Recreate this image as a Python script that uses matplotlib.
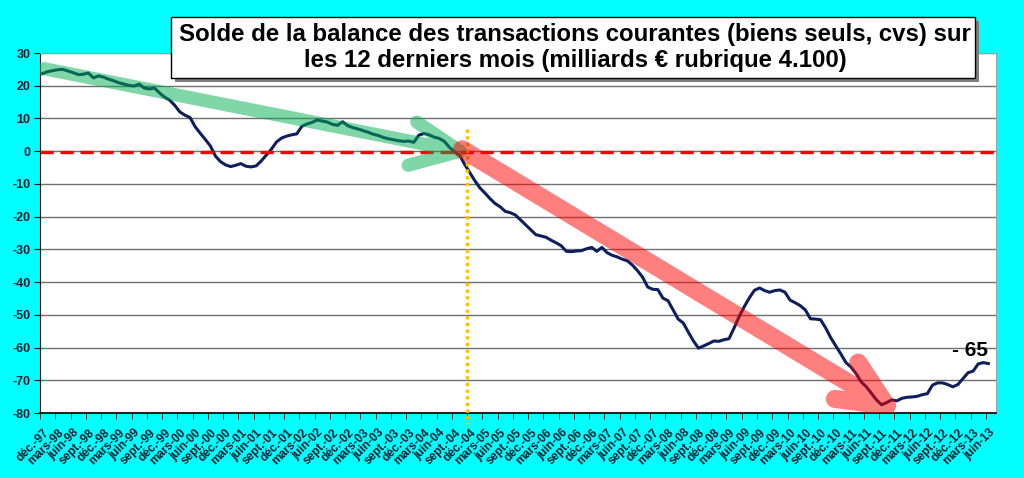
import numpy as np
import matplotlib
matplotlib.use('Agg')
import matplotlib.pyplot as plt
import matplotlib.transforms as mtransforms
from matplotlib.patches import Rectangle, PathPatch
from matplotlib.path import Path

plt.rcParams['font.family'] = ['Liberation Sans', 'DejaVu Sans']

# 12-month rolling goods balance, monthly from déc. 1997 to juin 2013 (bn €)
solde = [23.7, 24.3, 24.6, 24.9, 25.0, 24.5, 24.0, 23.4, 23.5, 23.9,
         22.4, 23.0, 22.6, 22.0, 21.5, 20.9, 20.5, 20.1, 19.9, 20.5,
         19.3, 19.0, 19.3, 17.8, 16.5, 15.6, 14.0, 12.0, 11.0, 10.3,
         7.5, 5.5, 3.6, 1.6, -1.5, -3.2, -4.2, -4.7, -4.3, -3.8,
         -4.6, -4.8, -4.5, -3.0, -1.2, 0.6, 2.8, 4.0, 4.6, 5.0,
         5.3, 7.6, 8.3, 8.8, 9.5, 9.2, 8.9, 8.2, 7.9, 9.0,
         7.8, 7.2, 6.8, 6.3, 5.8, 5.2, 4.8, 4.2, 3.8, 3.5,
         3.2, 3.0, 3.1, 2.7, 4.9, 5.4, 5.0, 4.3, 3.9, 3.0,
         1.2, -0.2, -1.2, -4.0, -6.5, -9.0, -11.2, -12.8, -14.5, -16.0,
         -17.0, -18.4, -18.8, -19.5, -21.0, -22.5, -24.0, -25.5, -25.9, -26.3,
         -27.2, -28.0, -28.9, -30.6, -30.7, -30.5, -30.4, -29.8, -29.4, -30.6,
         -29.4, -31.0, -31.8, -32.3, -33.0, -33.5, -34.8, -36.5, -38.5, -41.5,
         -42.2, -42.3, -44.9, -45.7, -48.5, -51.3, -52.5, -55.3, -58.0, -60.2,
         -59.5, -58.8, -58.0, -58.1, -57.6, -57.3, -54.0, -50.5, -47.5, -44.8,
         -42.5, -41.8, -42.6, -43.1, -42.6, -42.4, -43.1, -45.5, -46.3, -47.2,
         -48.5, -51.2, -51.3, -51.5, -54.0, -57.0, -59.5, -62.0, -64.6, -66.0,
         -68.0, -70.5, -72.0, -74.0, -76.0, -77.5, -76.8, -76.0, -76.3, -75.5,
         -75.2, -75.1, -74.9, -74.4, -74.1, -71.5, -70.8, -70.8, -71.3, -72.0,
         -71.3, -69.5, -67.7, -67.2, -65.0, -64.6, -64.9]

mois = ['déc.', 'mars', 'juin', 'sept.']
annee_debut = 1997
n_categories = 188   # axis runs one month past the last value
y_ticks = [-80, -70, -60, -50, -40, -30, -20, -10, 0, 10, 20, 30]

titre = ("Solde de la balance des transactions courantes (biens seuls, cvs) sur\n"
         "les 12 derniers mois (milliards € rubrique 4.100)")
note_fin = "- 65"

# hand drawn trend arrows: (start, tip, barb1, barb2) in data units
fleche_verte = [(0.3, 25.2), (82.1, 0.0), (73.6, 8.9), (71.9, -4.3)]
fleche_rouge = [(82.5, 0.6), (166.0, -77.8), (160.4, -64.6), (155.8, -75.7)]

n = len(solde)
x = np.arange(n)
tick_pos = x[::3]
tick_lab = []
for k, p in enumerate(tick_pos):
    m = mois[k % 4]
    yr = annee_debut + (k + 3) // 4
    tick_lab.append("%s-%02d" % (m, yr % 100))


def arrow(ax, pts, color, lw):
    s, t, b1, b2 = pts
    verts = [s, t, b1, t, b2, t]
    codes = [Path.MOVETO, Path.LINETO, Path.MOVETO, Path.LINETO,
             Path.MOVETO, Path.LINETO]
    p = PathPatch(Path(verts, codes), facecolor='none', edgecolor=color,
                  alpha=0.5, linewidth=lw, capstyle='round',
                  joinstyle='round', zorder=5)
    ax.add_patch(p)


fig = plt.figure(figsize=(10.24, 4.78), dpi=100)
fig.patch.set_facecolor('#00FFFF')
ax = fig.add_axes([40/1024, 1 - 413/478, 956/1024, 360/478])
ax.set_facecolor('white')

ax.plot(x, solde, color='#0D1F5C', linewidth=2.2, zorder=3,
        solid_joinstyle='round')

ax.axhline(-0.4, color='#FF0000', linewidth=2.4, dashes=(4, 2), zorder=4)
ax.plot([83.5, 83.5], [6.8, -83.3], color='#FFC000', linewidth=2.4,
        linestyle=(0, (1, 1)), zorder=4, clip_on=False)

arrow(ax, fleche_verte, '#00B050', 9.5)
arrow(ax, fleche_rouge, '#FF0000', 13)

ax.text(182.4, -60.9, note_fin, fontsize=15, fontweight='bold',
        ha='center', va='center', zorder=6)

ax.set_xlim(-0.5, n_categories - 0.5)
ax.set_ylim(-80, 30)
ax.set_yticks(y_ticks)
ax.set_yticklabels([str(v) for v in y_ticks], fontsize=9,
                   fontweight='bold', color='#0A2030')
ax.yaxis.grid(True, color='#707070', linewidth=1)
ax.set_axisbelow(True)

ax.set_xticks(tick_pos)
ax.set_xticklabels(tick_lab, rotation=45, ha='right', va='top',
                   rotation_mode='anchor', fontsize=8.5, fontweight='bold',
                   color='#0A2030')
shift = mtransforms.ScaledTranslation(-4/100, 0, fig.dpi_scale_trans)
for lab in ax.get_xticklabels():
    lab.set_transform(lab.get_transform() + shift)
ax.tick_params(axis='x', which='major', length=0, pad=10)
ax.set_xticks(np.arange(-0.5, n_categories, 3), minor=True)
ax.tick_params(axis='x', which='minor', length=4, color='black', direction='out')
ax.tick_params(axis='y', length=4, color='black', pad=3)

for s in ['top', 'right']:
    ax.spines[s].set_color('#A0A0A0')
ax.spines['left'].set_color('black')
ax.spines['bottom'].set_color('black')
ax.spines['bottom'].set_linewidth(1.2)

# title box with shadow
bx, by, bw, bh = 171/1024, 1 - 78/478, 804/1024, 61/478
fig.add_artist(Rectangle((bx + 4/1024, by - 4/478), bw, bh,
                         transform=fig.transFigure, facecolor='#7F7F7F',
                         edgecolor='none', zorder=9))
fig.add_artist(Rectangle((bx, by), bw, bh, transform=fig.transFigure,
                         facecolor='white', edgecolor='black',
                         linewidth=1, zorder=10))
fig.text(bx + bw/2 + 2/1024, by + bh/2, titre, ha='center', va='center',
         fontsize=17.3, fontweight='bold', linespacing=1.15, zorder=11)

fig.savefig('out.png', dpi=100, facecolor=fig.get_facecolor())
